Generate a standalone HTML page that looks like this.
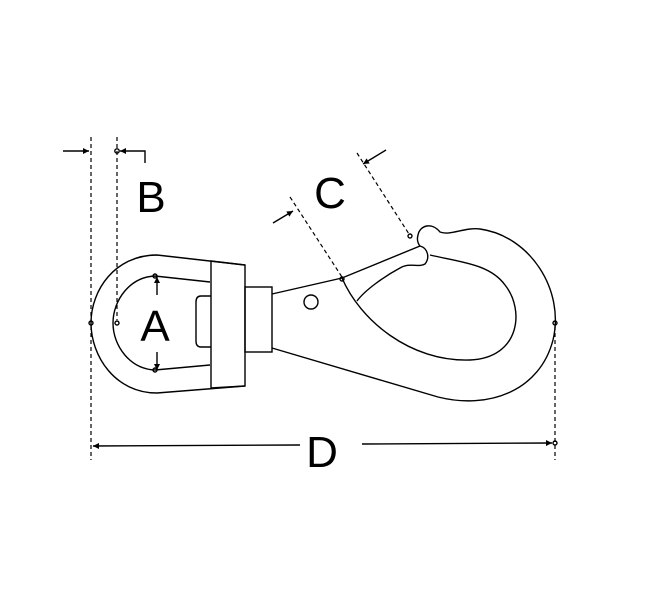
<!DOCTYPE html>
<html><head><style>html,body{margin:0;padding:0;background:#fff}svg{display:block}</style></head>
<body>
<svg width="650" height="594" viewBox="0 0 650 594" xmlns="http://www.w3.org/2000/svg">
<defs><marker id="ar" viewBox="0 0 10 10" refX="10" refY="5" markerWidth="9" markerHeight="6" orient="auto" markerUnits="userSpaceOnUse"><path d="M0,0L10,5L0,10z" fill="#000"/></marker></defs>
<g fill="none" stroke="#000" stroke-width="1.4">
<g stroke-dasharray="4,3" stroke-width="1.2">
<line x1="91" y1="137" x2="91" y2="460"/>
<line x1="117" y1="137" x2="117" y2="320"/>
<line x1="290" y1="197" x2="342" y2="277"/>
<line x1="357" y1="153" x2="409" y2="234"/>
<line x1="555" y1="326" x2="555" y2="460"/>
</g>
<line x1="63" y1="151" x2="89" y2="151" marker-end="url(#ar)"/>
<polyline points="145,163 145,151 120,151" marker-end="url(#ar)"/>
<circle cx="117" cy="151" r="2.2"/>
<line x1="157" y1="295" x2="157" y2="277" marker-end="url(#ar)"/>
<line x1="157" y1="352" x2="157" y2="370" marker-end="url(#ar)"/>
<line x1="273" y1="223" x2="293" y2="211" marker-end="url(#ar)"/>
<line x1="386" y1="150" x2="363" y2="164" marker-end="url(#ar)"/>
<line x1="300" y1="445" x2="93" y2="446" marker-end="url(#ar)"/>
<line x1="362" y1="444" x2="552" y2="443" marker-end="url(#ar)"/>
<circle cx="555" cy="443" r="2"/>
<circle cx="555" cy="323" r="2"/>
<circle cx="117" cy="323" r="2"/>
<circle cx="91" cy="323" r="2"/>
<circle cx="155" cy="276" r="2"/>
<circle cx="155" cy="370" r="2"/>
<circle cx="342" cy="279" r="2"/>
<circle cx="410" cy="236" r="2"/>
<path d="M245,265 L157,255 C115,255 91,290 91,323 C91,356 115,393 157,393 L245,386"/>
<path d="M210,282 L155,276 C130,277 113,300 113,323 C113,346 130,369 155,370 L210,365"/>
<path d="M211,261 L245,265 L245,386 L211,388 Z"/>
<path d="M211,296 L201,296 Q196,296 196,302 L196,341 Q196,347 201,347 L211,347"/>
<rect x="245" y="287" width="27" height="65"/>
<circle cx="311" cy="302" r="7"/>
<path d="M272,294 L342,278 L420,246"/>
<path d="M272,348 L438,397 C490,410 540,390 553,340 C565,290 530,236 480,229 C465,227 450,236 440,232 C432,222 420,225 418,235 C416,242 420,246 420,246 C428,248 430,258 425,264 C418,268 410,262 400,268 C385,276 365,290 357,301"/>
<path d="M342,278 C360,320 410,362 470,360 C520,358 525,310 505,285 C490,264 460,262 430,255"/>
</g>
<g font-family="Liberation Sans, sans-serif" font-size="44" fill="#000" text-anchor="middle">
<text x="151" y="212">B</text>
<text x="155" y="341">A</text>
<text x="330" y="208">C</text>
<text x="322" y="467">D</text>
</g>
</svg>
</body></html>
